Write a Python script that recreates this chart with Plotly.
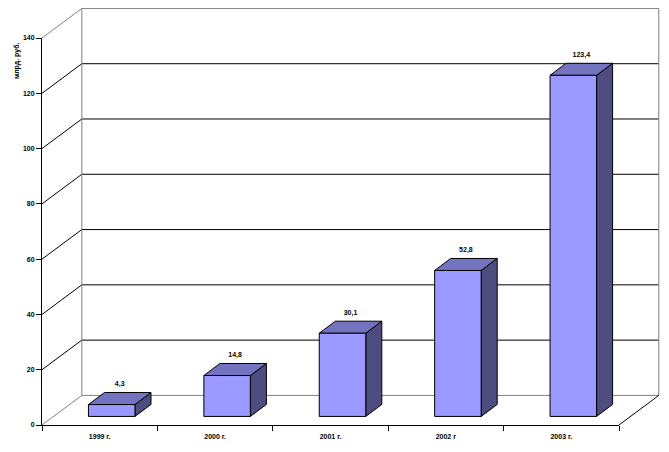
import plotly.graph_objects as go

# data
years = ['1999 г.', '2000 г.', '2001 г.', '2002 г', '2003 г.']
values = [4.3, 14.8, 30.1, 52.8, 123.4]
value_labels = ['4,3', '14,8', '30,1', '52,8', '123,4']
y_ticks = [0, 20, 40, 60, 80, 100, 120, 140]
axis_title = 'млрд. руб.'

# page body has an 8px margin, so the figure is 8px smaller than the window
fig_w, fig_h = 661, 444
plot_l, plot_t, plot_w, plot_h = 34, 30, 577, 387

# fake 3d: depth of the chart box and of the bars, in axis units
wall_dx = 0.345
wall_dy = 10.7
bar_dx = 0.139
bar_dy = 4.35
bar_width = 0.403
bar_shift = 0.104
bar_base = 3.1
label_gap = 1.6

FONT = dict(family='Liberation Sans, Arial', size=7, color='black')
GRAY = '#808080'

x0, x1 = -0.5, len(years) - 0.5
top = y_ticks[-1]

# second pair of axes covers the whole figure, same scale as the visible ones,
# because lines get clipped to the subplot and the box sticks out of it
x_unit = plot_w / len(years)
y_unit = plot_h / top
x2_range = [x0 - plot_l / x_unit, x1 + (fig_w - plot_l - plot_w) / x_unit]
y2_range = [-(fig_h - plot_t - plot_h) / y_unit, top + plot_t / y_unit]

fig = go.Figure()


def add_line(xs, ys, color='black', width=1):
    fig.add_trace(go.Scatter(x=xs, y=ys, mode='lines', xaxis='x2', yaxis='y2',
                             line=dict(color=color, width=width),
                             hoverinfo='skip', showlegend=False))


def add_faces(xs, ys, color):
    fig.add_trace(go.Scatter(x=xs, y=ys, mode='lines', fill='toself', fillcolor=color,
                             xaxis='x2', yaxis='y2', line=dict(color='black', width=1),
                             hoverinfo='skip', showlegend=False))


# value labels sit over the middle of the bar top, they also keep the visible axes alive
fig.add_trace(go.Scatter(
    x=[i + bar_shift + bar_dx / 2 for i in range(len(values))],
    y=[bar_base + v + bar_dy + label_gap for v in values],
    text=[f'<b>{s}</b>' for s in value_labels],
    mode='text', textposition='top center', xaxis='x', yaxis='y', cliponaxis=False,
    textfont=FONT, hoverinfo='skip', showlegend=False))

# back wall grid and the diagonals going to the axis
for v in y_ticks[1:-1]:
    add_line([x0, x0 + wall_dx, x1 + wall_dx], [v, v + wall_dy, v + wall_dy])

# wall frame
add_line([x0, x0 + wall_dx, x1 + wall_dx, x1 + wall_dx, x0 + wall_dx, x0 + wall_dx],
         [top, top + wall_dy, top + wall_dy, wall_dy, wall_dy, top + wall_dy], GRAY)
add_line([x0, x0 + wall_dx], [0, wall_dy], GRAY)
add_line([x1, x1 + wall_dx], [0, wall_dy])

# bars: one trace per kind of face
front_x, front_y, top_x, top_y, side_x, side_y = [], [], [], [], [], []
for i, v in enumerate(values):
    l = i + bar_shift - bar_width / 2
    r = i + bar_shift + bar_width / 2
    b = bar_base
    t = bar_base + v
    front_x += [l, r, r, l, l, None]
    front_y += [b, b, t, t, b, None]
    top_x += [l, r, r + bar_dx, l + bar_dx, l, None]
    top_y += [t, t, t + bar_dy, t + bar_dy, t, None]
    side_x += [r, r + bar_dx, r + bar_dx, r, r, None]
    side_y += [b, b + bar_dy, t + bar_dy, t, b, None]

add_faces(side_x, side_y, '#4D4D80')
add_faces(top_x, top_y, '#7373BF')
add_faces(front_x, front_y, '#9999FF')

fig.update_layout(
    width=fig_w, height=fig_h,
    autosize=False,
    margin=dict(l=0, r=0, t=0, b=0, pad=0),
    paper_bgcolor='white',
    plot_bgcolor='rgba(0,0,0,0)',
    showlegend=False,
    xaxis=dict(
        domain=[plot_l / fig_w, (plot_l + plot_w) / fig_w],
        range=[x0, x1],
        automargin=False,
        tickvals=list(range(len(years))),
        ticktext=[f'<b>{y}</b>' for y in years],
        # the major ticks are invisible, they only push the labels down
        ticks='outside', ticklen=5, tickcolor='rgba(0,0,0,0)',
        tickfont=FONT,
        showgrid=False, zeroline=False,
        showline=True, linecolor='black', linewidth=1,
        minor=dict(tickvals=[i - 0.5 for i in range(len(years) + 1)],
                   ticks='outside', ticklen=5, tickcolor='black', tickwidth=1,
                   showgrid=False),
    ),
    yaxis=dict(
        domain=[1 - (plot_t + plot_h) / fig_h, 1 - plot_t / fig_h],
        range=[0, top],
        automargin=False,
        tickvals=y_ticks,
        ticktext=[f'<b>{v}</b>' for v in y_ticks],
        ticks='outside', ticklen=5, tickcolor='black', tickwidth=1,
        tickfont=FONT,
        showgrid=False, zeroline=False,
        showline=True, linecolor='black', linewidth=1,
    ),
    xaxis2=dict(domain=[0, 1], range=x2_range, anchor='y2', visible=False, automargin=False),
    yaxis2=dict(domain=[0, 1], range=y2_range, anchor='x2', visible=False, automargin=False),
    annotations=[dict(
        text=f'<b>{axis_title}</b>',
        textangle=-90, showarrow=False,
        xref='paper', yref='paper',
        x=8.5 / fig_w, y=1 - 53.5 / fig_h,
        xanchor='center', yanchor='middle',
        font=FONT)],
)

fig.write_html('out.html')
